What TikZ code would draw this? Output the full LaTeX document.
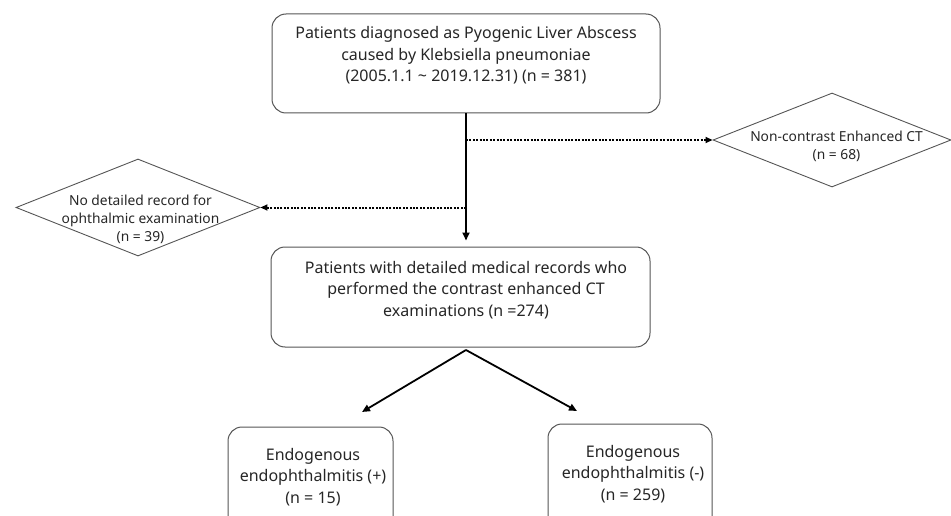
\documentclass[tikz,border=0pt]{standalone}
\usepackage{fontspec}
\setmainfont{Noto Sans}
\usetikzlibrary{arrows.meta,shapes.geometric}
\definecolor{txtc}{HTML}{262626}
\definecolor{linec}{HTML}{555555}
\begin{document}
\begin{tikzpicture}[x=1pt,y=-1pt,
  box/.style={draw=linec, line width=1pt, rounded corners=14pt, inner sep=0pt},
  dia/.style={diamond, draw=linec, line width=0.9pt, inner sep=0pt},
  maintxt/.style={text=txtc, align=center, inner sep=0pt, font=\fontsize{16}{21.5}\selectfont},
  diatxt/.style={text=txtc, align=center, inner sep=0pt, font=\fontsize{13.8}{18}\selectfont},
  arr/.style={draw=black, line width=1.8pt, -{Triangle[length=8pt,width=7pt]}},
  dotarr/.style={draw=black, line width=2pt, dash pattern=on 2pt off 1.4pt, -{Triangle[length=7pt,width=6pt]}}
]
\useasboundingbox (0,0) rectangle (951,516);
\clip (0,0) rectangle (951,516);
% boxes
\node[box, minimum width=388pt, minimum height=99pt] (top) at (466,63.5) {};
\node[maintxt] (toptxt) at (466,55.5) {Patients diagnosed as Pyogenic Liver Abscess\\caused by Klebsiella pneumoniae\\(2005.1.1 \textasciitilde{} 2019.12.31) (n = 381)};
\node[box, minimum width=379pt, minimum height=100pt] (mid) at (460.5,297) {};
\node[maintxt] (midtxt) at (466,290) {Patients with detailed medical records who\\performed the contrast enhanced CT\\examinations (n =274)};
\node[box, minimum width=165pt, minimum height=110pt] (bl) at (310.5,482) {};
\node[maintxt] (bltxt) at (313,477) {Endogenous\\endophthalmitis (+)\\(n = 15)};
\node[box, minimum width=164pt, minimum height=110pt] (br) at (630,479) {};
\node[maintxt] (brtxt) at (633,474) {Endogenous\\endophthalmitis (-)\\(n = 259)};
% diamonds
\node[dia, minimum width=238pt, minimum height=94pt] (rdia) at (832,140) {};
\node[diatxt] (rdiatxt) at (836.5,146) {Non-contrast Enhanced CT\\(n = 68)};
\node[dia, minimum width=244pt, minimum height=97pt] (ldia) at (138,207.5) {};
\node[diatxt] (ldiatxt) at (140.5,219.5) {No detailed record for\\ophthalmic examination\\(n = 39)};
% connectors
\coordinate (jr) at (top.south |- rdia.west);
\coordinate (jl) at (top.south |- ldia.east);
\coordinate (midin) at (top.south |- mid.north);
\draw[arr, shorten >=6pt] (top.south) -- (midin);
\draw[dotarr] (jr) -- (rdia.west);
\draw[dotarr] (jl) -- (ldia.east);
\coordinate (apex) at (466,350);
\coordinate (tipl) at (362,412);
\coordinate (tipr) at (577,411);
\draw[arr] (apex) -- (tipl);
\draw[arr] (apex) -- (tipr);
\end{tikzpicture}
\end{document}
